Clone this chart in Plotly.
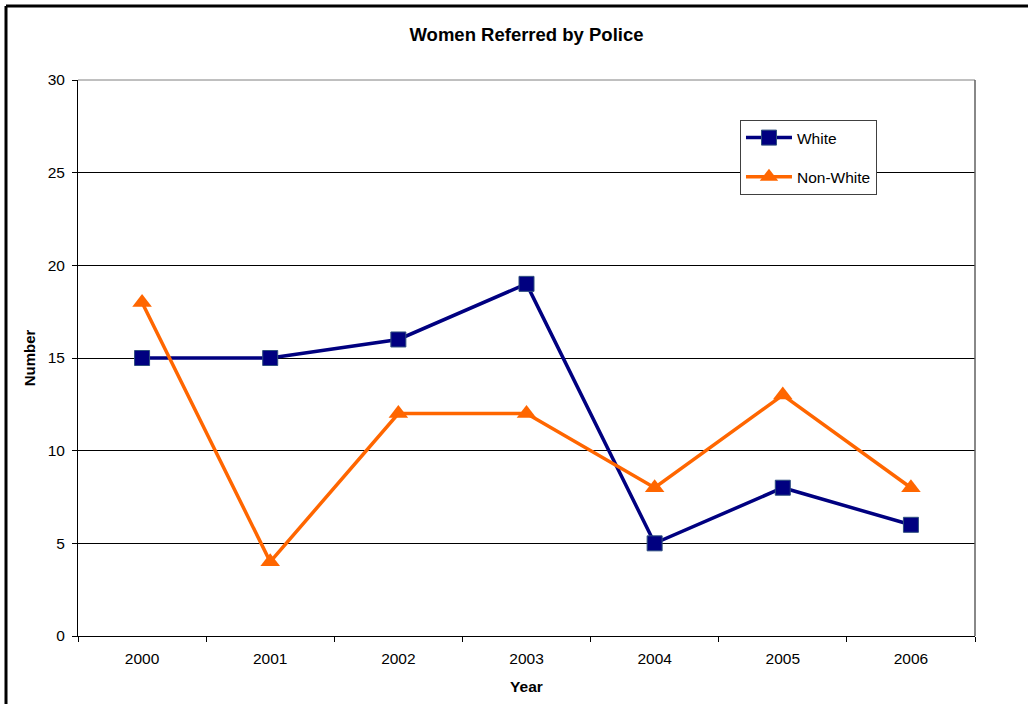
import plotly.graph_objects as go

years = ["2000", "2001", "2002", "2003", "2004", "2005", "2006"]
white = [15, 15, 16, 19, 5, 8, 6]
non_white = [18, 4, 12, 12, 8, 13, 8]

fig = go.Figure()
fig.add_trace(go.Scatter(
    x=years, y=white, name="White", mode="lines+markers",
    line=dict(color="#000080", width=3.5),
    marker=dict(symbol="square", size=15, color="#000080", line=dict(color="#2F4F7F", width=1)),
    legendgroup="a",
))
fig.add_trace(go.Scatter(
    x=years, y=non_white, name="Non-White", mode="lines+markers",
    line=dict(color="#FF6600", width=3.5),
    marker=dict(symbol="triangle-up", size=17, color="#FF6600"),
    legendgroup="b",
))

fig.update_layout(
    width=1035, height=704,
    margin=dict(l=78, r=60, t=80, b=68),
    paper_bgcolor="white", plot_bgcolor="white",
    font=dict(family="Arial, Liberation Sans", size=15.5, color="black"),
    title=dict(text="<b>Women Referred by Police</b>", x=0.5087, xanchor="center",
               y=1 - 35 / 704, yanchor="middle", font=dict(size=18.5)),
    showlegend=True,
    legend=dict(x=0.738, y=0.928, xanchor="left", yanchor="top",
                bordercolor="#404040", borderwidth=1, bgcolor="white",
                tracegroupgap=16, font=dict(size=15.5), itemwidth=46),
    xaxis=dict(type="category", range=[-0.5, 6.5], showline=True, linecolor="black",
               linewidth=1, ticks="outside", tickson="boundaries", ticklen=5,
               tickcolor="black", showgrid=False, ticklabelstandoff=8,
               title=dict(text="<b>Year</b>", standoff=15, font=dict(size=15.5))),
    yaxis=dict(range=[0, 30], dtick=5, showline=True, linecolor="black", linewidth=1,
               ticks="outside", ticklen=5, tickcolor="black", showgrid=True,
               gridcolor="black", gridwidth=1, zeroline=False, ticklabelstandoff=4,
               title=dict(text="<b>Number</b>", standoff=8, font=dict(size=15))),
    shapes=[
        dict(type="line", xref="paper", yref="paper", x0=0, x1=1, y0=1, y1=1,
             line=dict(color="#808080", width=1)),
        dict(type="line", xref="paper", yref="paper", x0=1, x1=1, y0=0, y1=1,
             line=dict(color="#606060", width=1.5)),
        dict(type="line", xref="paper", yref="paper",
             x0=(6 - 78) / 897, x1=(1028 - 78) / 897, y0=(636 - 6) / 556, y1=(636 - 6) / 556,
             line=dict(color="black", width=3)),
        dict(type="line", xref="paper", yref="paper",
             x0=(6 - 78) / 897, x1=(6 - 78) / 897, y0=(636 - 6) / 556, y1=(636 - 710) / 556,
             line=dict(color="black", width=3)),
    ],
)

fig.write_html("out.html")
